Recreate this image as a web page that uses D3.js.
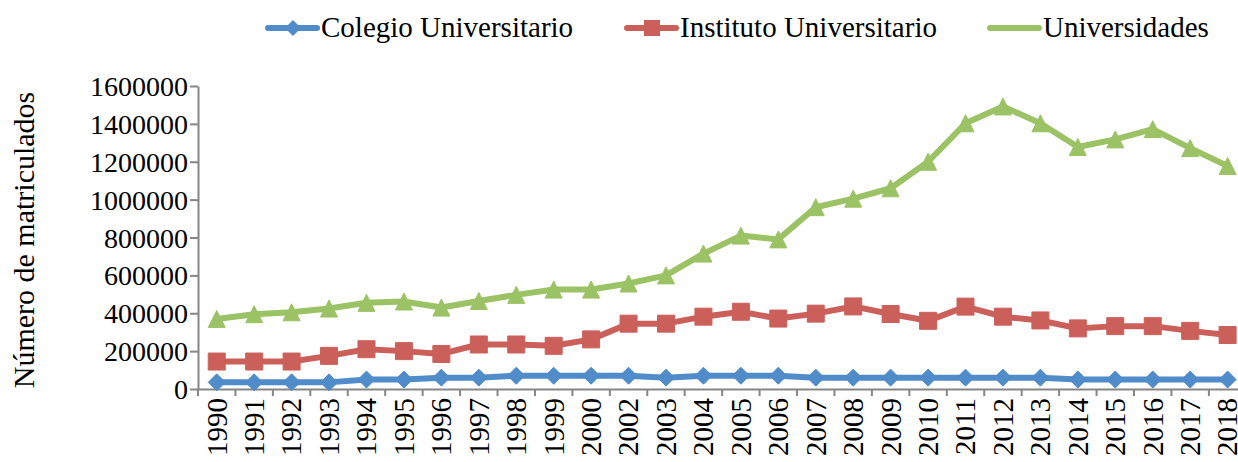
<!DOCTYPE html>
<html>

<head>
    <meta charset="utf-8">
    <script src="https://cdnjs.cloudflare.com/ajax/libs/d3/7.8.5/d3.min.js"></script>
    <style>
        body {
            margin: 0;
            background: #fff;
        }

        text {
            font-family: "Liberation Serif", "DejaVu Serif", serif;
            fill: #000;
        }

        .axis path,
        .axis line {
            stroke: #868686;
            stroke-width: 2;
        }
    </style>
</head>

<body>
    <svg width="1238" height="462"></svg>
    <script>
        var svg = d3.select("svg");

        //Categories (no 2001 in the source)
        var years = ["1990", "1991", "1992", "1993", "1994", "1995", "1996", "1997", "1998", "1999", "2000",
            "2002", "2003", "2004", "2005", "2006", "2007", "2008", "2009", "2010", "2011", "2012", "2013",
            "2014", "2015", "2016", "2017", "2018"];

        var colegio = [35000, 35000, 35000, 35000, 50000, 50000, 60000, 60000, 70000, 70000, 70000,
            70000, 60000, 70000, 70000, 70000, 60000, 60000, 60000, 60000, 60000, 60000, 60000,
            50000, 50000, 50000, 50000, 50000];

        var instituto = [145000, 145000, 145000, 175000, 210000, 200000, 185000, 235000, 235000, 228000, 262000,
            345000, 345000, 382000, 408000, 372000, 398000, 436000, 396000, 360000, 435000, 382000, 362000,
            320000, 332000, 332000, 307000, 285000];

        var universidades = [370000, 395000, 405000, 425000, 455000, 462000, 430000, 465000, 497000, 525000, 525000,
            557000, 600000, 715000, 810000, 790000, 960000, 1005000, 1060000, 1200000, 1403000, 1492000, 1403000,
            1278000, 1318000, 1372000, 1272000, 1178000];

        var yTicks = [0, 200000, 400000, 600000, 800000, 1000000, 1200000, 1400000, 1600000];

        var seriesNames = ["Colegio Universitario", "Instituto Universitario", "Universidades"];
        var seriesColors = ["#4f8cc9", "#cb605b", "#9bc264"];
        var seriesShapes = ["diamond", "square", "triangle"];

        var series = [colegio, instituto, universidades].map(function(values, i) {
            return {
                name: seriesNames[i],
                color: seriesColors[i],
                shape: seriesShapes[i],
                values: values
            };
        });

        var plotLeft = 198,
            plotBottom = 389,
            plotTop = 86,
            step = 37.44;

        var x = d3.scaleBand().domain(years).range([plotLeft, plotLeft + step * years.length]).padding(0);
        var y = d3.scaleLinear().domain([0, 1600000]).range([plotBottom, plotTop]);

        function cx(d) {
            return x(d) + x.bandwidth() / 2;
        }

        function markerPath(shape, r) {
            if (shape == "diamond") {
                return "M0," + (-r) + "L" + r + ",0L0," + r + "L" + (-r) + ",0Z";
            }
            if (shape == "square") {
                return "M" + (-r) + "," + (-r) + "H" + r + "V" + r + "H" + (-r) + "Z";
            }
            return "M0," + (-r) + "L" + r + "," + r + "H" + (-r) + "Z";
        }

        //Y axis
        svg.append("g")
            .attr("class", "axis axis--y")
            .attr("transform", "translate(" + plotLeft + ",0)")
            .call(d3.axisLeft(y).tickValues(yTicks).tickSize(8).tickPadding(2).tickSizeOuter(0)
                .tickFormat(d3.format("d")))
            .selectAll("text")
            .style("font-size", "28px")
            .attr("dy", "0.34em");

        //X axis, labels only; ticks sit between categories
        var xAxis = svg.append("g")
            .attr("class", "axis axis--x")
            .attr("transform", "translate(0," + plotBottom + ")")
            .call(d3.axisBottom(x).tickSize(0).tickSizeOuter(0));

        xAxis.selectAll("text")
            .style("font-size", "29px")
            .attr("text-anchor", "end")
            .attr("transform", "rotate(-90)")
            .attr("x", -9)
            .attr("y", 0)
            .attr("dy", "0.34em");

        xAxis.selectAll(".sep")
            .data(years.concat(["end"]))
            .enter().append("line")
            .attr("class", "sep")
            .attr("x1", function(d, i) { return plotLeft + i * x.bandwidth(); })
            .attr("x2", function(d, i) { return plotLeft + i * x.bandwidth(); })
            .attr("y1", 0)
            .attr("y2", 7);

        //Y title
        svg.append("text")
            .attr("transform", "translate(34,240) rotate(-90)")
            .attr("text-anchor", "middle")
            .style("font-size", "30px")
            .text("Número de matriculados");

        var line = d3.line()
            .x(function(d, i) { return cx(years[i]); })
            .y(function(d) { return y(d); });

        var g = svg.selectAll(".series")
            .data(series)
            .enter().append("g")
            .attr("class", "series");

        g.append("path")
            .attr("fill", "none")
            .attr("stroke", function(d) { return d.color; })
            .attr("stroke-width", 6)
            .attr("stroke-linejoin", "round")
            .attr("d", function(d) { return line(d.values); });

        g.each(function(s) {
            d3.select(this).selectAll(".marker")
                .data(s.values)
                .enter().append("path")
                .attr("class", "marker")
                .attr("fill", s.color)
                .attr("stroke", s.color)
                .attr("stroke-width", 1)
                .attr("stroke-linejoin", "round")
                .attr("transform", function(d, i) {
                    return "translate(" + cx(years[i]) + "," + y(d) + ")";
                })
                .attr("d", markerPath(s.shape, 8.5));
        });

        //Legend
        var legendX = [268, 627, 990];
        var legend = svg.selectAll(".legend")
            .data(series)
            .enter().append("g")
            .attr("class", "legend")
            .attr("transform", function(d, i) { return "translate(" + legendX[i] + ",28)"; });

        legend.append("line")
            .attr("x1", 0)
            .attr("x2", 49)
            .attr("stroke", function(d) { return d.color; })
            .attr("stroke-width", 6)
            .attr("stroke-linecap", "round");

        legend.filter(function(d) { return d.shape != "triangle"; })
            .append("path")
            .attr("transform", "translate(25,0)")
            .attr("fill", function(d) { return d.color; })
            .attr("d", function(d) { return markerPath(d.shape, 8); });

        legend.append("text")
            .attr("x", 53)
            .attr("y", 9)
            .style("font-size", "29px")
            .text(function(d) { return d.name; });
    </script>
</body>

</html>
